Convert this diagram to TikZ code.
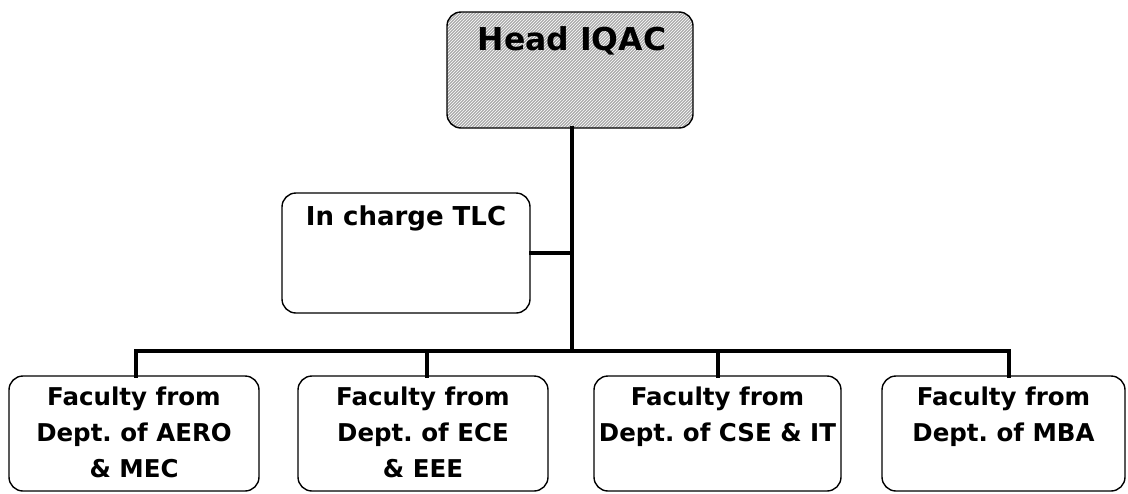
\documentclass[tikz,border=0pt]{standalone}
\usepackage{fontspec}
\setmainfont{DejaVu Sans}
\usetikzlibrary{patterns}
\frenchspacing
\begin{document}
\begin{tikzpicture}[x=1pt,y=-1pt,
  box/.style={draw=black,line width=1.4pt,rounded corners=14pt,fill=white},
  conn/.style={line width=4pt,line cap=rect},
  ftext/.style={font=\fontsize{24.5}{36}\selectfont\bfseries,align=center,anchor=north,inner sep=0pt},
]
\useasboundingbox (0,0) rectangle (1128,493);
% head
\path[box,preaction={fill=gray!65},pattern=north east lines,pattern color=white] (447,12) rectangle (693,128);
\node[inner sep=0pt] (headbox) at (570,70) [minimum width=246pt,minimum height=116pt] {};
\node[font=\fontsize{31.5}{36}\selectfont\bfseries,inner sep=0pt] (headtxt) at (572,41) {Head IQAC};
% TLC
\node[box,minimum width=248pt,minimum height=120pt,inner sep=0pt] (tlc) at (406,253) {};
\node[font=\fontsize{26}{30}\selectfont\bfseries,inner sep=0pt] (tlctxt) at (406,218) {In charge TLC};
% bottom boxes
\node[box,minimum width=250pt,minimum height=115pt,inner sep=0pt] (b1) at (134,433.5) {};
\node[box,minimum width=250pt,minimum height=115pt,inner sep=0pt] (b2) at (423,433.5) {};
\node[box,minimum width=247pt,minimum height=115pt,inner sep=0pt] (b3) at (717.5,433.5) {};
\node[box,minimum width=243pt,minimum height=115pt,inner sep=0pt] (b4) at (1003.5,433.5) {};
\node[ftext] (t1) at (134,387) {Faculty from\\Dept. of AERO\\\& MEC};
\node[ftext] (t2) at (423,387) {Faculty from\\Dept. of ECE\\\& EEE};
\node[ftext] (t3) at (717.5,387) {Faculty from\\Dept. of CSE \& IT};
\node[ftext] (t4) at (1003.5,387) {Faculty from\\Dept. of MBA};
% connectors
\coordinate (bus) at (572,351);
\coordinate (busL) at (136,351);
\coordinate (busR) at (1009,351);
\draw[conn] (572,128) -- (bus);
\draw[conn] (tlc.east) -- (572,253);
\draw[conn] (busL) -- (busR);
\draw[conn] (busL) -- (136,376);
\draw[conn] (427,351) -- (427,376);
\draw[conn] (718,351) -- (718,376);
\draw[conn] (busR) -- (1009,376);
\end{tikzpicture}
\end{document}
